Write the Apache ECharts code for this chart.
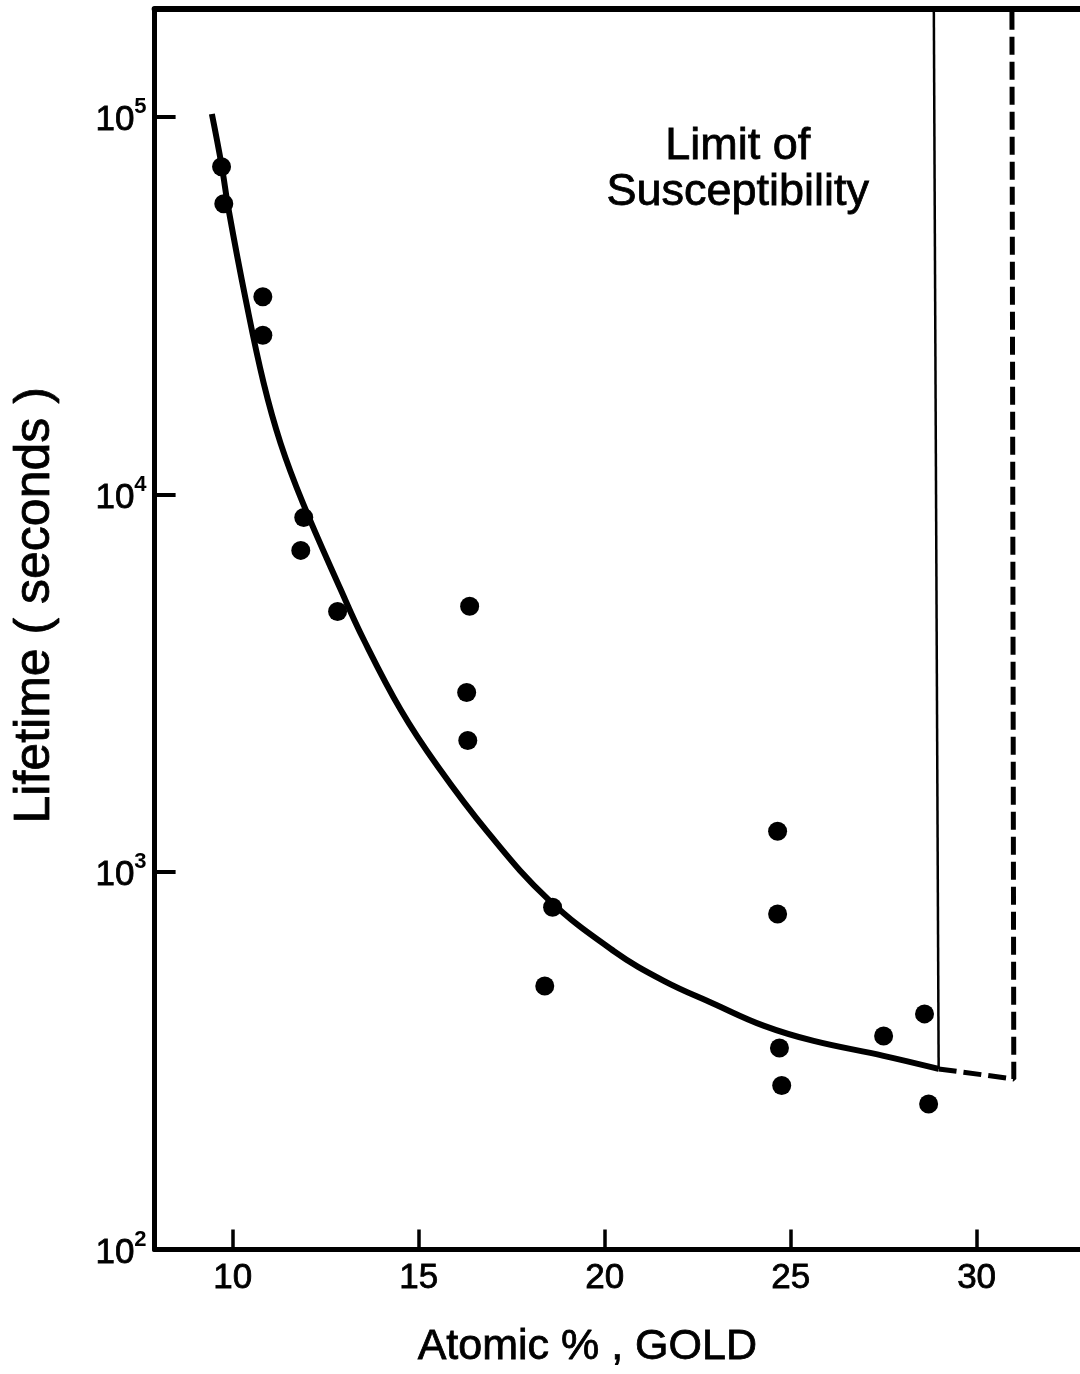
<!DOCTYPE html>
<html>
<head>
<meta charset="utf-8">
<script src="https://cdn.jsdelivr.net/npm/echarts@6/dist/echarts.min.js"></script>
<style>
html,body{margin:0;padding:0;background:#fff;}
#chart{width:1080px;height:1374px;}
</style>
</head>
<body>
<div id="chart"></div>
<script>
// ---- data ----
const xTicks = [10, 15, 20, 25, 30];
const yTicks = [100, 1000, 10000, 100000];

// measured points (atomic % gold, lifetime s)
const pointGold = [9.70, 9.76, 10.81, 10.81, 11.91, 11.83, 12.82, 16.37, 16.29, 16.32, 18.60, 18.39, 24.65, 24.65, 24.70, 24.76, 27.50, 28.60, 28.71];
const pointLife = [73800, 58900, 33400, 26400, 8690, 7110, 4900, 5060, 2990, 2230, 807, 499, 1283, 774, 342, 272, 368, 421, 243];

// fitted curve
const curveGold = [9.44, 9.70, 9.89, 10.35, 10.83, 11.29, 11.88, 12.90, 13.52, 14.52, 15.51, 16.85, 18.47, 20.24, 21.59, 22.93, 24.27, 25.62, 27.50, 28.98];
const curveLife = [101800, 74600, 56800, 32800, 19770, 13640, 9530, 5610, 4130, 2686, 1905, 1277, 849, 618, 515, 448, 392, 357, 326, 301];

// limit of susceptibility lines
const yTop = 193100;
const limitGold = [28.98, 28.85];
const limitLife = [301, yTop];
const dashGold = [28.98, 31.0, 30.95];
const dashLife = [301, 283, yTop];

const FONT = 'Liberation Sans';
const INK = {textBorderColor: '#000', textBorderWidth: 0.8};
const zip = (a, b) => a.map((v, i) => [v, b[i]]);

const chart = echarts.init(document.getElementById('chart'), null, {renderer: 'canvas'});
chart.setOption({
  backgroundColor: '#ffffff',
  animation: false,
  grid: {left: 154.6, right: 0, top: 9, bottom: 123, containLabel: false},
  xAxis: [{
    type: 'value', min: 7.9, max: 32.78,
    axisLine: {show: true, lineStyle: {color: '#000', width: 5}},
    axisTick: {show: true, inside: true, length: 20, lineStyle: {color: '#000', width: 3.5}, customValues: xTicks},
    axisLabel: Object.assign({show: true, customValues: xTicks, margin: 11, color: '#000', fontFamily: FONT, fontSize: 35}, INK),
    splitLine: {show: false},
    name: 'Atomic % , GOLD', nameLocation: 'middle', nameGap: 76,
    nameTextStyle: Object.assign({color: '#000', fontFamily: FONT, fontSize: 43, padding: [0, 60, 0, 0]}, INK)
  }, {
    type: 'value', position: 'top', min: 7.9, max: 32.78,
    axisLine: {show: true, lineStyle: {color: '#000', width: 6}},
    axisTick: {show: false}, axisLabel: {show: false}, splitLine: {show: false}
  }],
  yAxis: [{
    type: 'log', logBase: 10, min: 100, max: yTop,
    axisLine: {show: true, lineStyle: {color: '#000', width: 5}},
    axisTick: {show: true, inside: true, length: 21, lineStyle: {color: '#000', width: 4}, customValues: yTicks},
    axisLabel: {
      show: true, customValues: yTicks, margin: 8, color: '#000',
      formatter: function (v) { return '{b|10}{s|' + Math.round(Math.log10(v)) + '}'; },
      rich: {
        b: Object.assign({fontFamily: FONT, fontSize: 35, color: '#000', lineHeight: 42, verticalAlign: 'bottom'}, INK),
        s: {fontFamily: FONT, fontSize: 22, fontWeight: 'bold', color: '#000', lineHeight: 22, verticalAlign: 'top'}
      }
    },
    splitLine: {show: false},
    name: 'Lifetime ( seconds )', nameLocation: 'middle', nameGap: 94, nameRotate: 90,
    nameTextStyle: Object.assign({color: '#000', fontFamily: FONT, fontSize: 50, padding: [0, 0, 0, 48]}, INK)
  }],
  graphic: [{
    type: 'text', left: 606, top: 124,
    style: {
      text: 'Limit of\nSusceptibility', textAlign: 'center',
      fontFamily: FONT, fontSize: 45, lineHeight: 46, fill: '#000', stroke: '#000', lineWidth: 0.8
    }
  }],
  series: [{
    type: 'line', name: 'curve', data: zip(curveGold, curveLife),
    smooth: 0.4, showSymbol: false, symbol: 'none',
    lineStyle: {color: '#000', width: 6}, z: 3
  }, {
    type: 'line', name: 'limit', data: zip(limitGold, limitLife),
    showSymbol: false, symbol: 'none',
    lineStyle: {color: '#000', width: 2.5}, z: 3
  }, {
    type: 'line', name: 'limit dashed', data: zip(dashGold, dashLife),
    showSymbol: false, symbol: 'none',
    lineStyle: {color: '#000', width: 5, type: [18, 7]}, z: 3
  }, {
    type: 'scatter', name: 'points', data: zip(pointGold, pointLife),
    symbol: 'circle', symbolSize: 19,
    itemStyle: {color: '#000', opacity: 1}, z: 4
  }]
});
</script>
</body>
</html>
